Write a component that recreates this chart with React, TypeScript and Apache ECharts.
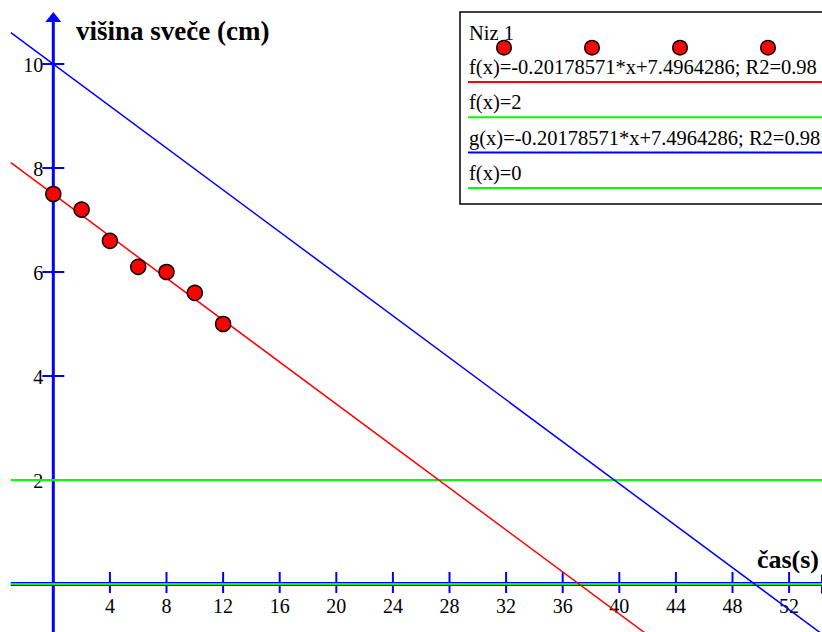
import React, { useEffect, useRef } from "react";
import * as echarts from "echarts";

// ---- data ----
const timeValues = [0, 2, 4, 6, 8, 10, 12];
const heightValues = [7.5, 7.2, 6.6, 6.1, 6.0, 5.6, 5.0];

// fitted line f(x) endpoints
const redLineX = [-3, 56];
const redLineY = [8.102, -3.804];
// shifted line g(x) endpoints
const blueLineX = [-3, 56];
const blueLineY = [10.605, -1.3];
// horizontal lines f(x)=2 and f(x)=0
const greenLevels = [2, 0];
const greenX = [-3, 56];

const xTicks = [4, 8, 12, 16, 20, 24, 28, 32, 36, 40, 44, 48, 52];
const yTicks = [2, 4, 6, 8, 10];

const yTitle = "višina sveče (cm)";
const xTitle = "čas(s)";
const legendLabels = [
  "Niz 1",
  "f(x)=-0.20178571*x+7.4964286; R2=0.98",
  "f(x)=2",
  "g(x)=-0.20178571*x+7.4964286; R2=0.98",
  "f(x)=0",
];

const FAMILY = "Liberation Serif";
const BLUE = "#0000ff";
const RED = "#ff0000";
const GREEN = "#00ff00";

const txt = (size: number, bold = false) => ({
  fontFamily: FAMILY,
  fontSize: size,
  fontWeight: bold ? "bold" : "normal",
  fill: "#000",
});

export default function App() {
  const ref = useRef<HTMLDivElement>(null);
  useEffect(() => {
    if (!ref.current) return;
    const chart = echarts.init(ref.current, null, { renderer: "svg" });
    const zip = (xs: number[], ys: number[]) => xs.map((x, i) => [x, ys[i]]);

    const legendLineColors = [RED, GREEN, BLUE, GREEN];
    const legendGraphics: any[] = [
      {
        type: "rect",
        shape: { x: 460, y: 12, width: 380, height: 192 },
        style: { fill: "#fff", stroke: "#000", lineWidth: 1.5 },
        z: 10,
      },
      {
        type: "text",
        x: 469,
        y: 33,
        style: { text: legendLabels[0], ...txt(20.5), verticalAlign: "middle" },
        z: 11,
      },
    ];
    [504, 592, 680, 768].forEach((cx) =>
      legendGraphics.push({
        type: "circle",
        shape: { cx, cy: 47.7, r: 7.2 },
        style: { fill: RED, stroke: "#000", lineWidth: 1.5 },
        z: 12,
      })
    );
    for (let i = 0; i < 4; i++) {
      const ty = 67 + i * 35.3;
      legendGraphics.push({
        type: "text",
        x: 469,
        y: ty,
        style: { text: legendLabels[i + 1], ...txt(20.5), verticalAlign: "middle" },
        z: 11,
      });
      legendGraphics.push({
        type: "line",
        shape: { x1: 468, y1: ty + 15, x2: 822, y2: ty + 15 },
        style: { stroke: legendLineColors[i], lineWidth: 2 },
        z: 11,
      });
    }

    const option: any = {
      animation: false,
      backgroundColor: "#fff",
      grid: { left: 0, right: 0, top: 0, bottom: 0 },
      xAxis: { type: "value", min: -3.767, max: 54.325, show: false },
      yAxis: { type: "value", min: -0.923, max: 11.231, show: false },
      graphic: [
        {
          type: "text",
          x: 76,
          y: 31,
          style: { text: yTitle, ...txt(27, true), verticalAlign: "middle" },
        },
        {
          type: "text",
          x: 819,
          y: 559,
          style: { text: xTitle, ...txt(26, true), align: "right", verticalAlign: "middle" },
        },
        ...legendGraphics,
      ],
      series: [
        // x axis
        {
          type: "line",
          data: [[-3, 0], [56, 0]],
          symbol: "none",
          lineStyle: { color: BLUE, width: 4 },
          z: 1,
        },
        // y axis
        {
          type: "line",
          data: [[0, -1], [0, 10.81]],
          symbol: "none",
          lineStyle: { color: BLUE, width: 3 },
          z: 1,
        },
        // y arrow head
        {
          type: "scatter",
          data: [[0, 10.904]],
          symbol: "triangle",
          symbolSize: [16, 10],
          itemStyle: { color: BLUE, opacity: 1 },
          z: 1,
        },
        // x arrow head (mostly outside the picture)
        {
          type: "scatter",
          data: [[54.61, 0]],
          symbol: "triangle",
          symbolRotate: -90,
          symbolSize: [20, 10],
          clip: false,
          itemStyle: { color: BLUE, opacity: 1 },
          z: 1,
        },
        // x ticks
        {
          type: "custom",
          data: xTicks.map((v) => [v]),
          renderItem: (_p: any, api: any) => {
            const v = api.value(0);
            const p = api.coord([v, 0]);
            return {
              type: "group",
              children: [
                {
                  type: "line",
                  shape: { x1: p[0], y1: p[1] - 12, x2: p[0], y2: p[1] + 9 },
                  style: { stroke: BLUE, lineWidth: 2 },
                },
                {
                  type: "text",
                  x: p[0],
                  y: p[1] + 22,
                  style: { text: String(v), ...txt(20), align: "center", verticalAlign: "middle" },
                },
              ],
            };
          },
          z: 2,
        },
        // y ticks
        {
          type: "custom",
          data: yTicks.map((v) => [v]),
          renderItem: (_p: any, api: any) => {
            const v = api.value(0);
            const p = api.coord([0, v]);
            return {
              type: "group",
              children: [
                {
                  type: "line",
                  shape: { x1: p[0] - 11, y1: p[1], x2: p[0] + 11, y2: p[1] },
                  style: { stroke: BLUE, lineWidth: 2 },
                },
                {
                  type: "text",
                  x: p[0] - 10,
                  y: p[1] + 1,
                  style: { text: String(v), ...txt(20), align: "right", verticalAlign: "middle" },
                },
              ],
            };
          },
          z: 2,
        },
        // green lines
        ...greenLevels.map((lv) => ({
          type: "line",
          data: greenX.map((x) => [x, lv]),
          symbol: "none",
          lineStyle: { color: GREEN, width: 2 },
          z: 3,
        })),
        // blue line
        {
          type: "line",
          data: zip(blueLineX, blueLineY),
          symbol: "none",
          lineStyle: { color: BLUE, width: 1.5 },
          z: 3,
        },
        // red fitted line
        {
          type: "line",
          data: zip(redLineX, redLineY),
          symbol: "none",
          lineStyle: { color: RED, width: 1.5 },
          z: 4,
        },
        // data points
        {
          type: "scatter",
          data: zip(timeValues, heightValues),
          symbol: "circle",
          symbolSize: 15,
          itemStyle: { color: RED, borderColor: "#000", borderWidth: 1.5, opacity: 1 },
          z: 5,
        },
      ],
    };
    chart.setOption(option);
    return () => chart.dispose();
  }, []);
  return (
    <div
      ref={ref}
      style={{ position: "absolute", left: 0, top: 0, width: 822, height: 632 }}
    />
  );
}
